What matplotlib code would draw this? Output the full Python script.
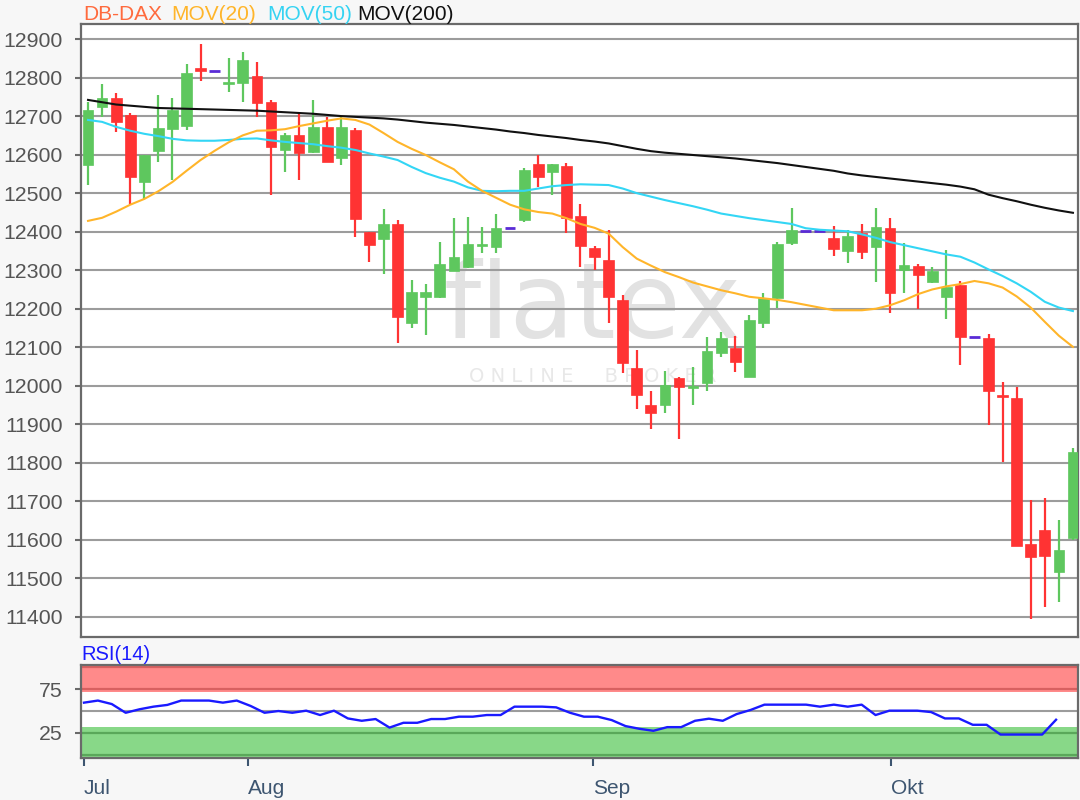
import matplotlib
matplotlib.use("Agg")
import matplotlib.pyplot as plt
import numpy as np

# ---------------- data ----------------
opens = [12573, 12724, 12746, 12704, 12529, 12609, 12666, 12675, 12824, 12818,
         12785, 12785, 12804, 12736, 12613, 12652, 12607, 12672, 12590, 12664,
         12398, 12380, 12419, 12162, 12231, 12231, 12299, 12309, 12364, 12361,
         12409, 12430, 12575, 12556, 12570, 12441, 12357, 12327, 12223, 12045,
         11950, 11950, 12020, 11994, 12006, 12086, 12099, 12024, 12164, 12229,
         12370, 12403, 12403, 12383, 12351, 12397, 12359, 12409, 12301, 12311,
         12270, 12231, 12262, 12127, 12123, 11976, 11968, 11589, 11626, 11518,
         11604]
highs = [12737, 12782, 12761, 12709, 12600, 12756, 12746, 12835, 12887, 12818,
         12850, 12867, 12841, 12742, 12655, 12711, 12742, 12698, 12698, 12668,
         12400, 12460, 12430, 12275, 12264, 12372, 12435, 12439, 12413, 12445,
         12409, 12564, 12599, 12575, 12577, 12472, 12363, 12404, 12236, 12093,
         11987, 12039, 12024, 12050, 12127, 12139, 12129, 12184, 12242, 12372,
         12461, 12403, 12403, 12415, 12404, 12420, 12461, 12435, 12371, 12316,
         12309, 12352, 12272, 12127, 12134, 12011, 11998, 11704, 11708, 11652,
         11838]
lows = [12521, 12698, 12659, 12471, 12486, 12580, 12534, 12665, 12791, 12818,
        12763, 12737, 12697, 12495, 12555, 12535, 12605, 12581, 12573, 12385,
        12322, 12291, 12110, 12150, 12132, 12228, 12299, 12305, 12344, 12344,
        12409, 12426, 12515, 12495, 12396, 12308, 12301, 12162, 12034, 11939,
        11887, 11929, 11861, 11950, 11987, 12074, 12037, 12022, 12149, 12201,
        12366, 12403, 12403, 12337, 12318, 12328, 12270, 12188, 12240, 12199,
        12266, 12173, 12054, 12127, 11898, 11803, 11584, 11394, 11425, 11440,
        11600]
closes = [12716, 12746, 12685, 12541, 12599, 12669, 12716, 12813, 12818, 12818,
          12789, 12845, 12733, 12620, 12652, 12603, 12672, 12581, 12672, 12432,
          12365, 12419, 12179, 12243, 12243, 12315, 12335, 12367, 12367, 12409,
          12409, 12560, 12541, 12575, 12435, 12363, 12335, 12231, 12058, 11976,
          11929, 12002, 11998, 11998, 12089, 12123, 12063, 12171, 12227, 12367,
          12404, 12403, 12403, 12354, 12388, 12348, 12413, 12240, 12314, 12288,
          12299, 12256, 12127, 12127, 11987, 11972, 11584, 11555, 11559, 11574,
          11829]

mov20 = [12428, 12436, 12452, 12470, 12485, 12505, 12529, 12558, 12586, 12610,
         12632, 12650, 12662, 12663, 12666, 12674, 12681, 12688, 12694, 12690,
         12678, 12656, 12633, 12615, 12599, 12580, 12562, 12530, 12506, 12488,
         12470, 12458, 12451, 12447, 12435, 12420, 12410, 12395, 12360, 12330,
         12312, 12295, 12282, 12268, 12258, 12248, 12240, 12231, 12227, 12223,
         12217, 12210, 12203, 12196, 12196, 12196, 12200, 12209, 12222, 12238,
         12250, 12258, 12264, 12272, 12266, 12255, 12232, 12203, 12166, 12130,
         12101]
mov50 = [12690, 12685, 12672, 12662, 12654, 12648, 12641, 12637, 12636, 12636,
         12638, 12641, 12642, 12637, 12633, 12630, 12627, 12622, 12618, 12612,
         12603, 12595, 12586, 12568, 12552, 12540, 12530, 12515, 12506, 12505,
         12506, 12506, 12512, 12518, 12521, 12523, 12522, 12521, 12512, 12500,
         12491, 12482, 12474, 12466, 12457, 12447, 12441, 12435, 12430, 12425,
         12420, 12409, 12405, 12403, 12401, 12393, 12384, 12373, 12365, 12357,
         12349, 12341, 12335, 12320, 12302, 12285, 12266, 12244, 12218, 12203,
         12194]
mov200 = [12742, 12736, 12730, 12727, 12724, 12721, 12720, 12719, 12718, 12717,
          12716, 12715, 12714, 12712, 12710, 12708, 12706, 12703, 12700, 12698,
          12696, 12694, 12691, 12687, 12683, 12680, 12677, 12673, 12669, 12665,
          12660, 12656, 12651, 12647, 12643, 12638, 12634, 12629, 12622, 12615,
          12609, 12605, 12602, 12599, 12596, 12593, 12590, 12586, 12582, 12578,
          12573, 12568, 12563, 12558, 12551, 12546, 12542, 12538, 12534, 12530,
          12526, 12522, 12517, 12510, 12496, 12487, 12479, 12470, 12462, 12455,
          12449]
rsi14 = [59.6, 62, 58, 48, 52, 55, 57, 62, 62, 62,
         59.6, 62, 55.8, 48, 50, 48, 50.4, 45.4, 50.4, 41.5,
         38.8, 40.8, 31, 36.5, 36.5, 40.8, 40.8, 43.5, 43.5, 45.4,
         45.4, 55, 55, 55, 54.2, 48, 43.5, 43.5, 39.6, 32.7,
         29.6, 27.3, 31.5, 31.5, 38.8, 41.2, 38.8, 46.5, 51.2, 57.3,
         57.3, 57.3, 57.3, 55, 57.3, 55, 57.3, 45.4, 50.4, 50.4,
         50.4, 48.8, 41.5, 41.5, 34.2, 34.2, 23, 23, 23, 23,
         40]

price_ticks = list(range(11400, 13000, 100))
month_labels = ["Jul", "Aug", "Sep", "Okt"]
month_pos = [0.0, 11.81, 36.66, 58.12]
rsi_ticks = [25, 75]

# ---------------- style ----------------
plt.rcParams["font.family"] = ["Liberation Sans", "DejaVu Sans"]
W, H = 1080, 800
fig = plt.figure(figsize=(W / 100, H / 100), dpi=100, facecolor="#f7f7f7")

GREEN = "#5ec75e"
RED = "#ff3333"
PURPLE = "#5a2bd6"
GRID = "#9c9c9c"
SPINE = "#6a6a6a"

def fx(px):
    return px / W

def fy(py):
    return 1 - py / H

# ---------------- main price panel ----------------
ax = fig.add_axes([fx(81), fy(637), fx(1078) - fx(81), fy(24) - fy(637)])
ax.set_facecolor("white")
n = len(opens)
x = np.arange(n)
ax.set_xlim(-0.5, 70.36)
ax.set_ylim(11348, 12939)

for v in price_ticks:
    ax.axhline(v, color=GRID, lw=1.5, zorder=1)

# watermark
ax.text(0.513, 0.535, "flatex", transform=ax.transAxes, ha="center", va="center",
        fontsize=76, color="#e2e2e2", family="DejaVu Sans", zorder=0.5)
ax.text(0.513, 0.425, "O N L I N E     B R O K E R", transform=ax.transAxes,
        ha="center", va="center", fontsize=14, color="#e8e8e8",
        family="DejaVu Sans", zorder=0.5)

o = np.array(opens, float)
h = np.array(highs, float)
l = np.array(lows, float)
c = np.array(closes, float)
flat = (o == c) & (h == l)
up = (c >= o) & ~flat
dn = (c < o) & ~flat

bw = 0.76
for mask, col in ((up, GREEN), (dn, RED)):
    ax.vlines(x[mask], l[mask], h[mask], color=col, lw=1.6, zorder=3)
    body = np.abs(c[mask] - o[mask])
    heights = np.maximum(body, 5)
    bottoms = np.minimum(o[mask], c[mask]) - (heights - body) / 2
    ax.bar(x[mask], heights, bw, bottom=bottoms,
           color=col, edgecolor=col, lw=0.5, zorder=4)
ax.hlines(c[flat], x[flat] - bw / 2, x[flat] + bw / 2, color=PURPLE, lw=2, zorder=4)

ax.plot(x, mov200, color="#111111", lw=1.5, zorder=5)
ax.plot(x, mov50, color="#33d6f5", lw=1.5, zorder=5)
ax.plot(x, mov20, color="#ffb52a", lw=1.5, zorder=5)

ax.set_yticks(price_ticks)
ax.set_yticklabels([str(v) for v in price_ticks])
ax.tick_params(axis="y", length=4, width=1.5, color=SPINE, labelsize=15.3,
               labelcolor="#555555", pad=9)
ax.tick_params(axis="x", bottom=False, labelbottom=False)
for s in ax.spines.values():
    s.set_color(SPINE)
    s.set_linewidth(1.6)

# legend title
titles = [("DB-DAX", "#ff6a3d", 83), ("MOV(20)", "#ffb52a", 171),
          ("MOV(50)", "#35d3f2", 267), ("MOV(200)", "#111111", 357)]
for t, col, px in titles:
    fig.text(fx(px), fy(14), t, color=col, fontsize=15, ha="left", va="center")

# ---------------- RSI panel ----------------
ax2 = fig.add_axes([fx(81), fy(758), fx(1078) - fx(81), fy(665) - fy(758)])
ax2.set_facecolor("white")
ax2.set_xlim(-0.216, 71.58)
ax2.set_ylim(-3.9, 102.8)
ax2.axhspan(72, 110, color="#ff8a8a", lw=0, zorder=1)
ax2.axhspan(-10, 32, color="#88d888", lw=0, zorder=1)
for v, col in ((100, "#d86060"), (75, "#d86060"), (25, "#5aa85a"), (0, "#5aa85a")):
    ax2.axhline(v, color=col, lw=1.6, zorder=2)
ax2.axhline(50, color=GRID, lw=1.5, zorder=2)
ax2.plot(np.arange(len(rsi14)), rsi14, color="#1a1aff", lw=1.7, zorder=3)

ax2.set_yticks(rsi_ticks)
ax2.set_yticklabels([str(v) for v in rsi_ticks])
ax2.tick_params(axis="y", length=4, width=1.5, color=SPINE, labelsize=15.3,
                labelcolor="#555555", pad=9)
ax2.set_xticks(month_pos)
ax2.set_xticklabels(month_labels, ha="left")
ax2.tick_params(axis="x", length=6, width=1.5, color="#3d5570", labelsize=15,
                labelcolor="#3d5570", pad=9)
for s in ax2.spines.values():
    s.set_color(SPINE)
    s.set_linewidth(1.6)

fig.text(fx(81), fy(654), "RSI(14)", color="#1a1aff", fontsize=14.5, ha="left", va="center")

fig.savefig("out.png", dpi=100, facecolor=fig.get_facecolor())
